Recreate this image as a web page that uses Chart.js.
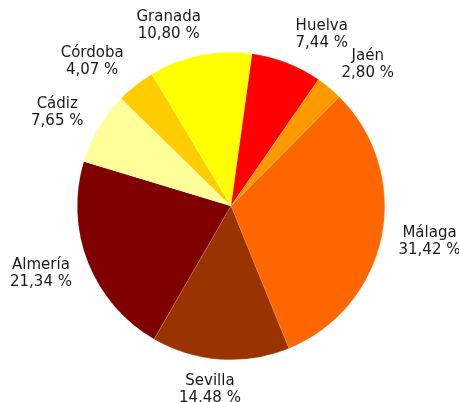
<!DOCTYPE html>
<html>
<head>
<meta charset="utf-8">
<script src="https://cdn.jsdelivr.net/npm/chart.js@4.4.1/dist/chart.umd.min.js"></script>
<style>
  html, body { margin: 0; padding: 0; background: #fff; }
  #wrap { width: 459px; height: 402px; }
</style>
</head>
<body>
<div id="wrap"><canvas id="pieChart" width="459" height="402"></canvas></div>
<script>
const provinces = ['Almería', 'Cádiz', 'Córdoba', 'Granada', 'Huelva', 'Jaén', 'Málaga', 'Sevilla'];
const shares = [21.34, 7.65, 4.07, 10.80, 7.44, 2.80, 31.42, 14.48];
const sliceColors = ['#800000', '#FFFF99', '#FFCC00', '#FFFF00', '#FF0000', '#FF9900', '#FF6600', '#993300'];

const fmt = v => v.toFixed(2).replace('.', ',') + ' %';

// outside labels, two lines: name + percentage
const outsideLabels = {
  id: 'outsideLabels',
  afterDatasetsDraw(chart) {
    const ctx = chart.ctx;
    const meta = chart.getDatasetMeta(0);
    ctx.save();
    ctx.font = '15px "DejaVu Sans", Verdana, sans-serif';
    ctx.fillStyle = '#1a1a1a';
    ctx.textAlign = 'center';
    ctx.textBaseline = 'middle';
    const lh = 17;
    meta.data.forEach((arc, i) => {
      const mid = (arc.startAngle + arc.endAngle) / 2;
      const R = arc.outerRadius + 13;
      const l1 = provinces[i];
      const l2 = fmt(shares[i]);
      const hw = Math.max(ctx.measureText(l1).width, ctx.measureText(l2).width) / 2;
      const cx = Math.cos(mid), cy = Math.sin(mid);
      const k = Math.max(-1, Math.min(1, cx * 4));
      const x = arc.x + cx * R + k * (hw + 4);
      const y = arc.y + cy * R + cy * lh;
      ctx.fillText(l1, x, y - lh / 2);
      ctx.fillText(l2, x, y + lh / 2);
    });
    ctx.restore();
  }
};

new Chart(document.getElementById('pieChart').getContext('2d'), {
  type: 'pie',
  data: {
    labels: provinces,
    datasets: [{
      data: shares,
      backgroundColor: sliceColors,
      borderColor: 'rgba(255,255,255,0.25)',
      borderWidth: 0.5
    }]
  },
  options: {
    responsive: false,
    animation: false,
    rotation: -150,
    layout: { padding: { top: 52, bottom: 42, left: 77, right: 74 } },
    plugins: {
      legend: { display: false },
      tooltip: { enabled: false }
    }
  },
  plugins: [outsideLabels]
});
</script>
</body>
</html>
